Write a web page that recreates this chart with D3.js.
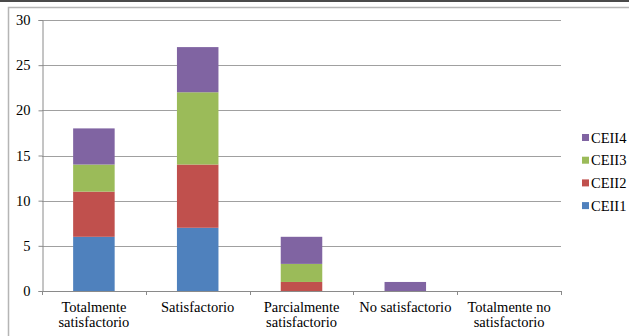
<!DOCTYPE html>
<html>
<head>
<meta charset="utf-8">
<script src="https://cdn.jsdelivr.net/npm/d3@7"></script>
<style>
  body { margin: 0; background: #fff; }
</style>
</head>
<body>
<div id="chart"></div>
<script>
const categories = [
  ["Totalmente", "satisfactorio"],
  ["Satisfactorio"],
  ["Parcialmente", "satisfactorio"],
  ["No satisfactorio"],
  ["Totalmente no", "satisfactorio"]
];
const seriesNames = ["CEII1", "CEII2", "CEII3", "CEII4"];
const ceii1 = [6, 7, 0, 0, 0];
const ceii2 = [5, 7, 1, 0, 0];
const ceii3 = [3, 8, 2, 0, 0];
const ceii4 = [4, 5, 3, 1, 0];
const yTicks = [0, 5, 10, 15, 20, 25, 30];
const colors = ["#4f81bd", "#c0504d", "#9bbb59", "#8064a2"];
const serif = "Liberation Serif";

const width = 629, height = 336;
const margin = { top: 20, right: 68, bottom: 45, left: 42 };

const svg = d3.select("#chart").append("svg")
  .attr("width", width)
  .attr("height", height);

// outer frame
svg.append("rect").attr("x", 0).attr("y", 0).attr("width", width).attr("height", 2).attr("fill", "#4a4a4a");
svg.append("path")
  .attr("d", `M8.5,${height} V7.5 H${width}`)
  .attr("fill", "none").attr("stroke", "#b5b5b5").attr("stroke-width", 1.5);

const rows = categories.map((c, i) => ({
  key: i, CEII1: ceii1[i], CEII2: ceii2[i], CEII3: ceii3[i], CEII4: ceii4[i]
}));
const stacked = d3.stack().keys(seriesNames)(rows);

const x = d3.scaleBand()
  .domain(d3.range(categories.length))
  .range([margin.left, width - margin.right])
  .paddingInner(0.6).paddingOuter(0.3);

const y = d3.scaleLinear()
  .domain([0, 30])
  .range([height - margin.bottom, margin.top]);

// gridlines
svg.append("g")
  .selectAll("line")
  .data(yTicks.filter(d => d > 0))
  .join("line")
  .attr("x1", margin.left).attr("x2", width - margin.right)
  .attr("y1", d => Math.round(y(d)) + 0.5).attr("y2", d => Math.round(y(d)) + 0.5)
  .attr("stroke", "#a0a0a0");

// bars
svg.append("g")
  .selectAll("g")
  .data(stacked)
  .join("g")
  .attr("fill", (d, i) => colors[i])
  .selectAll("rect")
  .data(d => d.filter(s => s[1] > s[0]))
  .join("rect")
  .attr("x", d => x(d.data.key))
  .attr("width", x.bandwidth())
  .attr("y", d => y(d[1]))
  .attr("height", d => y(d[0]) - y(d[1]));

// y axis
const yAxis = svg.append("g")
  .attr("transform", `translate(${margin.left + 0.5},0)`)
  .call(d3.axisLeft(y).tickValues(yTicks).tickSize(4).tickPadding(8));
yAxis.select(".domain").attr("stroke", "#8a8a8a");
yAxis.selectAll(".tick line").attr("stroke", "#8a8a8a");
yAxis.selectAll(".tick text")
  .attr("font-size", 14.5)
  .attr("fill", "#000")
  .attr("font-family", serif);

// x axis
const xEdges = d3.range(categories.length + 1).map(i => margin.left + i * x.step());
const xAxisG = svg.append("g");
xAxisG.append("line")
  .attr("x1", margin.left).attr("x2", width - margin.right)
  .attr("y1", y(0) + 0.5).attr("y2", y(0) + 0.5)
  .attr("stroke", "#8a8a8a");
xAxisG.selectAll(".xt")
  .data(xEdges)
  .join("line")
  .attr("x1", d => Math.round(d) + 0.5).attr("x2", d => Math.round(d) + 0.5)
  .attr("y1", y(0)).attr("y2", y(0) + 4)
  .attr("stroke", "#8a8a8a");

const labels = svg.append("g")
  .selectAll("text")
  .data(categories)
  .join("text")
  .attr("x", (d, i) => x(i) + x.bandwidth() / 2)
  .attr("y", y(0) + 21)
  .attr("text-anchor", "middle")
  .attr("font-size", 14.5)
  .attr("font-family", serif);
labels.selectAll("tspan")
  .data(d => d)
  .join("tspan")
  .attr("x", function () { return this.parentNode.getAttribute("x"); })
  .attr("dy", (d, i) => i === 0 ? 0 : 15)
  .text(d => d);

// legend
const legend = svg.append("g")
  .selectAll("g")
  .data(seriesNames.slice().reverse())
  .join("g")
  .attr("transform", (d, i) => `translate(582,${138 + i * 22.7})`);
legend.append("rect")
  .attr("x", 0).attr("y", -4).attr("width", 7).attr("height", 7)
  .attr("fill", d => colors[seriesNames.indexOf(d)]);
legend.append("text")
  .attr("x", 9).attr("y", 4.5)
  .attr("font-size", 14.5)
  .attr("font-family", serif)
  .text(d => d);
</script>
</body>
</html>
